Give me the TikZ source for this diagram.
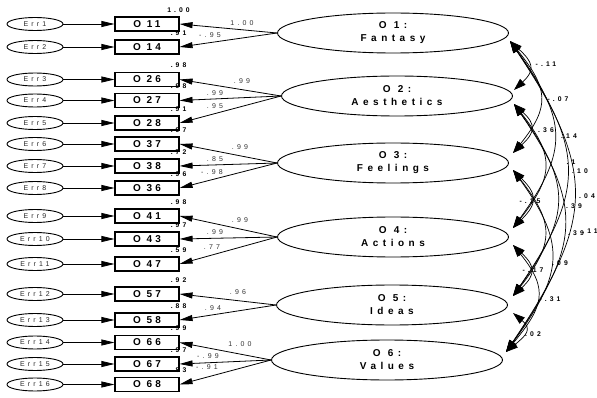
\documentclass[tikz,border=0pt]{standalone}
\usepackage{fontspec}
\setmainfont{Liberation Sans}
\newfontfamily\boxfont[LetterSpace=30]{Liberation Sans}
\newfontfamily\facfont[LetterSpace=45]{Liberation Sans}
\newfontfamily\errfont[LetterSpace=45]{Liberation Sans}
\newfontfamily\valfont[LetterSpace=45]{Liberation Sans}
\usetikzlibrary{arrows.meta,shapes.geometric}

\tikzset{
  errnode/.style={ellipse, draw, line width=0.9pt, minimum width=56pt, minimum height=13pt,
    inner sep=0pt, font=\errfont\fontsize{7}{7}\selectfont, text=black!85},
  indbox/.style={rectangle, draw, line width=1.1pt, minimum width=64pt, minimum height=14pt,
    inner sep=0pt, font=\boxfont\bfseries\fontsize{10}{10}\selectfont},
  facnode/.style={ellipse, draw, line width=0.9pt, minimum width=231pt, minimum height=40pt,
    inner sep=0pt, align=center, font=\facfont\bfseries\fontsize{10}{13}\selectfont},
  ldarrow/.style={-{Triangle[length=13pt,width=6pt]}, line width=0.8pt},
  covarrow/.style={{Triangle[length=12pt,width=8pt]}-{Triangle[length=12pt,width=8pt]}, line width=0.7pt},
  smclabel/.style={font=\valfont\bfseries\fontsize{6.8}{7}\selectfont, inner sep=0pt},
  wtlabel/.style={font=\valfont\fontsize{7}{7}\selectfont, text=black!80, inner sep=0pt},
  cvlabel/.style={font=\valfont\bfseries\fontsize{6.8}{7}\selectfont, inner sep=0pt}
}

\begin{document}
\begin{tikzpicture}[x=1pt, y=-1pt]
\useasboundingbox (0,0) rectangle (597,398);

% latent factors
\node[facnode] (F1) at (393,33)  {O 1:\\Fantasy};
\node[facnode] (F2) at (397,96)  {O 2:\\Aesthetics};
\node[facnode] (F3) at (393,163) {O 3:\\Feelings};
\node[facnode] (F4) at (393,237) {O 4:\\Actions};
\node[facnode] (F5) at (392,305) {O 5:\\Ideas};
\node[facnode] (F6) at (387,360) {O 6:\\Values};

% items, error terms and squared multiple correlations
\foreach \n/\y/\e/\s in {11/24/1/1.00, 14/47/2/.91, 26/79.5/3/.98, 27/100.5/4/.98,
    28/123/5/.91, 37/144/6/.97, 38/166/7/.72, 36/188/8/.96, 41/216/9/.98,
    43/239/10/.97, 47/264/11/.59, 57/294/12/.92, 58/320/13/.88, 66/342.5/14/.99,
    67/364/15/.97, 68/384.5/16/.83} {
  \node[indbox] (o\n) at (147,\y) {O \n};
  \node[errnode] (e\e) at (35,\y) {Err\e};
  \draw[ldarrow] (e\e.east) -- (o\n.west);
  \node[smclabel] (r\n) at ([xshift=-1pt,yshift=6.5pt]o\n.north east) {\s};
}

% factor loadings
\foreach \f/\n in {1/11,1/14,2/26,2/27,2/28,3/37,3/38,3/36,4/41,4/43,4/47,5/57,5/58,6/66,6/67,6/68}
  \draw[ldarrow] (F\f.west) -- (o\n.east);

\node[wtlabel] (w11) at (242,23)  {1.00};
\node[wtlabel] (w14) at (210,35)  {-.95};
\node[wtlabel] (w26) at (242,81)  {.99};
\node[wtlabel] (w27) at (215,93)  {.99};
\node[wtlabel] (w28) at (215,106) {.95};
\node[wtlabel] (w37) at (240,147) {.99};
\node[wtlabel] (w38) at (215,159) {.85};
\node[wtlabel] (w36) at (212,172) {-.98};
\node[wtlabel] (w41) at (240,220) {.99};
\node[wtlabel] (w43) at (215,232) {.99};
\node[wtlabel] (w47) at (212,247) {.77};
\node[wtlabel] (w57) at (238,292) {.96};
\node[wtlabel] (w58) at (213,308) {.94};
\node[wtlabel] (w66) at (240,344) {1.00};
\node[wtlabel] (w67) at (208,356) {-.99};
\node[wtlabel] (w68) at (207,367) {-.91};

% attachment points of the covariance curves
\coordinate (b1) at (510,41);
\coordinate (t2) at (514,90);  \coordinate (b2) at (514,104);
\coordinate (t3) at (513,153); \coordinate (b3) at (513,170);
\coordinate (t4) at (513,228); \coordinate (b4) at (513,245);
\coordinate (t5) at (513,296); \coordinate (b5) at (513,313);
\coordinate (t6) at (506,352);

% factor covariances
\foreach \a/\b/\d in {1/2/49, 1/3/112, 1/4/187, 1/5/255, 1/6/311,
    2/3/49, 2/4/124, 2/5/192, 2/6/248, 3/4/58, 3/5/126, 3/6/182,
    4/5/51, 4/6/107, 5/6/39} {
  \pgfmathsetmacro\cx{10+0.25*\d}
  \pgfmathsetmacro\cy{0.42*\d}
  \draw[covarrow] (b\a) .. controls +(\cx,\cy) and +(\cx,-\cy) .. (t\b);
}

\node[cvlabel] (k12) at (546,64)  {-.11};
\node[cvlabel] (k13) at (558,99)  {-.07};
\node[cvlabel] (k23) at (546,130) {.36};
\node[cvlabel] (k14) at (569,136) {.14};
\node[cvlabel] (k15) at (571,162) {.1};
\node[cvlabel] (k24) at (580,171) {.10};
\node[cvlabel] (k34) at (530,201) {-.15};
\node[cvlabel] (k25) at (574,206) {.39};
\node[cvlabel] (k16) at (587,196) {.04};
\node[cvlabel] (k26) at (576,233) {.39};
\node[cvlabel] (k35) at (590,231) {.11};
\node[cvlabel] (k45) at (533,270) {-.17};
\node[cvlabel] (k36) at (560,263) {.09};
\node[cvlabel] (k46) at (550,299) {-.31};
\node[cvlabel] (k56) at (533,334) {.02};
\end{tikzpicture}
\end{document}
